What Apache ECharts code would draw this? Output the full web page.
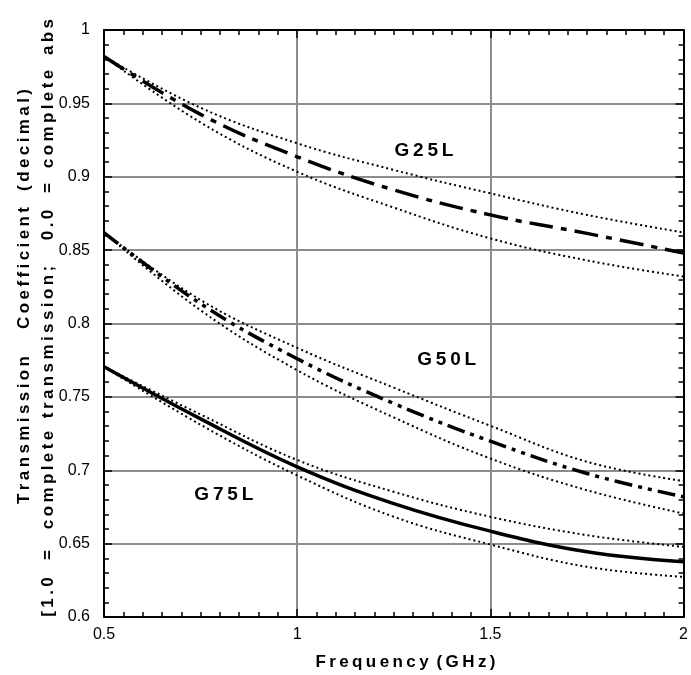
<!DOCTYPE html>
<html><head><meta charset="utf-8">
<script src="https://cdn.jsdelivr.net/npm/echarts@6/dist/echarts.min.js"></script>
<style>html,body{margin:0;padding:0;background:#fff}#c{width:691px;height:675px}</style>
</head><body><div id="c"></div>
<script>
// ---- data ----
const freq = [0.5, 0.75, 1.0, 1.25, 1.5, 1.75, 2.0];
const g25Center = [0.982, 0.9425, 0.9136, 0.891, 0.874, 0.8614, 0.848];
const g25Upper  = [0.982, 0.947, 0.9228, 0.9046, 0.8887, 0.874, 0.862];
const g25Lower  = [0.982, 0.937, 0.9034, 0.879, 0.858, 0.843, 0.832];
const g50Center = [0.862, 0.8135, 0.776, 0.7455, 0.7198, 0.6978, 0.6819];
const g50Upper  = [0.862, 0.816, 0.7834, 0.7563, 0.7303, 0.7058, 0.6926];
const g50Lower  = [0.862, 0.809, 0.7682, 0.736, 0.708, 0.6864, 0.6705];
const g75Center = [0.7705, 0.735, 0.7023, 0.6773, 0.6585, 0.6444, 0.6376];
const g75Upper  = [0.7705, 0.738, 0.707, 0.6853, 0.6683, 0.6558, 0.6478];
const g75Lower  = [0.7705, 0.731, 0.6965, 0.6683, 0.6494, 0.6342, 0.6273];
const labelNames = ['G25L', 'G50L', 'G75L'];
const labelX = [1.328, 1.387, 0.810];
const labelY = [0.918, 0.775, 0.683];
const xTitleWords = ['Frequency', '(GHz)'];
const yTitle1Words = ['Transmission', 'Coefficient', '(decimal)'];
const yTitle2Words = ['[1.0', '=', 'complete', 'transmission;', '0.0', '=', 'complete', 'abs'];

// ---- chart ----
const FONT = '"Liberation Sans", Arial, sans-serif';
const pairs = ys => freq.map((x, i) => [x, ys[i]]);
const sp = w => w.split('').join('\u2009');
const chart = echarts.init(document.getElementById('c'));

function axisCommon(showLabel, showSplit) {
  return {
    axisLine: {show: true, onZero: false, lineStyle: {color: '#000', width: 2}},
    axisTick: {show: true, inside: true, length: 8, lineStyle: {color: '#000', width: 1.5}},
    minorTick: {show: true, length: 5, lineStyle: {color: '#000', width: 1.5}},
    splitLine: {show: showSplit, lineStyle: {color: '#8c8c8c', width: 2}},
    axisLabel: {show: showLabel, color: '#000', fontSize: 16, fontFamily: FONT}
  };
}
const xa = (pos, lab, split) => Object.assign({type: 'value', min: 0.5, max: 2, interval: 0.5, position: pos}, axisCommon(lab, split));
const ya = (pos, lab, split) => Object.assign({type: 'value', min: 0.6, max: 1, interval: 0.05, position: pos}, axisCommon(lab, split));
const X0 = xa('bottom', true, true); X0.minorTick.splitNumber = 10; X0.axisLabel.margin = 10;
const X1 = xa('top', false, false); X1.minorTick.splitNumber = 10;
const Y0 = ya('left', true, true); Y0.minorTick.splitNumber = 5; Y0.axisLabel.margin = 14;
const Y1 = ya('right', false, false); Y1.minorTick.splitNumber = 5;

const dotted = {color: '#000', width: 2, type: [2, 3]};
function line(ys, style, z) {
  return {type: 'line', data: pairs(ys), smooth: 0.4, symbol: 'none', lineStyle: style, z: z, silent: true, animation: false};
}
chart.setOption({
  animation: false,
  grid: {left: 104, right: 2, top: 30, bottom: 58},
  xAxis: [X0, X1],
  yAxis: [Y0, Y1],
  series: [
    line(g25Upper, dotted, 2), line(g25Lower, dotted, 2),
    line(g50Upper, dotted, 2), line(g50Lower, dotted, 2),
    line(g75Upper, dotted, 2), line(g75Lower, dotted, 2),
    line(g25Center, {color: '#000', width: 3.5, type: [24, 8, 6, 8]}, 3),
    line(g50Center, {color: '#000', width: 3.5, type: [18, 6, 4, 6, 4, 6]}, 3),
    line(g75Center, {color: '#000', width: 3.5, type: 'solid'}, 3)
  ]
});

// ---- text overlays ----
const gfx = [];
labelNames.forEach((n, i) => {
  const p = chart.convertToPixel({gridIndex: 0}, [labelX[i], labelY[i]]);
  gfx.push({type: 'text', x: p[0], y: p[1], z: 10,
    style: {text: sp(n), font: 'bold 19px ' + FONT, fill: '#000', align: 'center', verticalAlign: 'middle'}});
});
// x-axis title
const xCenters = [372, 466];
xTitleWords.forEach((w, i) => gfx.push({type: 'text', x: xCenters[i], y: 662, z: 10,
  style: {text: sp(w), font: 'bold 17px ' + FONT, fill: '#000', align: 'center', verticalAlign: 'middle'}}));
// y-axis title, two rotated lines of words
const y1Centers = [430, 268, 140];
yTitle1Words.forEach((w, i) => gfx.push({type: 'text', x: 24, y: y1Centers[i], rotation: Math.PI / 2, z: 10,
  style: {text: sp(w), font: 'bold 17px ' + FONT, fill: '#000', align: 'center', verticalAlign: 'middle'}}));
const y2Centers = [597, 555, 480, 342, 225, 188, 119, 37];
yTitle2Words.forEach((w, i) => gfx.push({type: 'text', x: 48, y: y2Centers[i], rotation: Math.PI / 2, z: 10,
  style: {text: sp(w), font: 'bold 17px ' + FONT, fill: '#000', align: 'center', verticalAlign: 'middle'}}));
chart.setOption({graphic: {elements: gfx}});
</script></body></html>
